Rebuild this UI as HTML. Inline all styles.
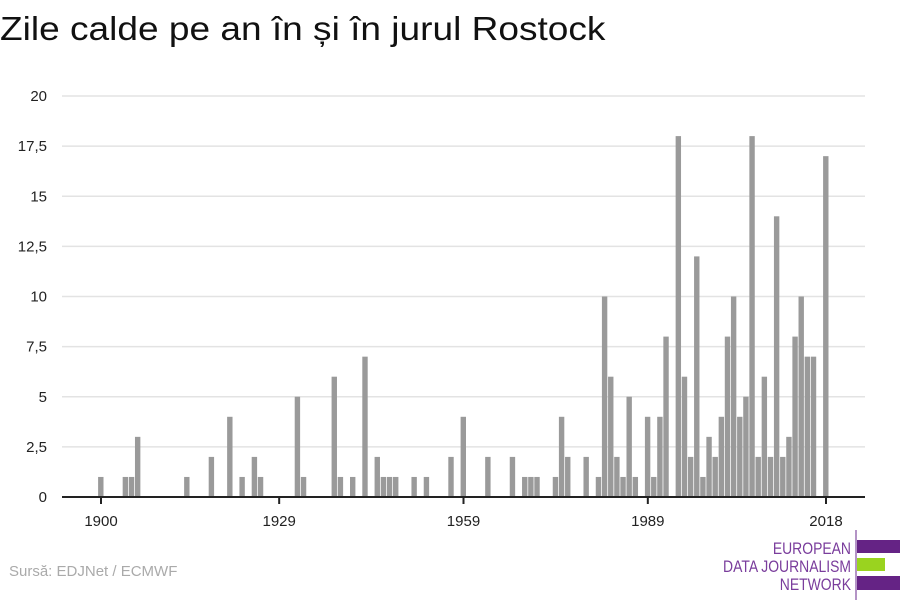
<!DOCTYPE html>
<html><head><meta charset="utf-8"><style>
body{margin:0;width:900px;height:600px;background:#fff;overflow:hidden}
svg{display:block;font-family:"Liberation Sans",sans-serif}
</style></head><body>
<svg width="900" height="600" viewBox="0 0 900 600">
<text x="0" y="40" font-size="33" fill="#111" transform="scale(1.123,1)">Zile calde pe an în și în jurul Rostock</text>
<g id="grid" stroke="#e3e3e3" stroke-width="1.5"></g>
<g id="ylab" font-size="15" fill="#222" text-anchor="end"></g>
<g id="bars" fill="#9a9a9a"></g>
<line x1="62" y1="497" x2="865" y2="497" stroke="#222" stroke-width="2"/>
<g id="xt" stroke="#222" stroke-width="2"></g>
<g id="xl" font-size="15" fill="#222" text-anchor="middle"></g>
<text x="9" y="576" font-size="15" fill="#aaa">Sursă: EDJNet / ECMWF</text>
<line x1="856" y1="530" x2="856" y2="600" stroke="#6a2a8e" stroke-width="1"/>
<rect x="857" y="540" width="43" height="13" fill="#652385"/>
<rect x="857" y="558" width="28" height="13" fill="#9ad31f"/>
<rect x="857" y="576" width="43" height="14" fill="#652385"/>
<g font-size="17" fill="#7a3d9c" text-anchor="end" transform="translate(851,0) scale(0.82,1)">
<text x="0" y="554">EUROPEAN</text>
<text x="0" y="572">DATA JOURNALISM</text>
<text x="0" y="590">NETWORK</text>
</g>
</svg>
<script>
var ns="http://www.w3.org/2000/svg";
function el(p,t,a,txt){var e=document.createElementNS(ns,t);for(var k in a)e.setAttribute(k,a[k]);if(txt!=null)e.textContent=txt;document.getElementById(p).appendChild(e);}
var Y=v=>497-v*20.05;
for(var i=0;i<=8;i++){var v=i*2.5;if(i>0)el("grid","line",{x1:62,x2:865,y1:Y(v),y2:Y(v)});
el("ylab","text",{x:47,y:Y(v)+5},String(v).replace(".",","));}
var d={1900:1,1904:1,1905:1,1906:3,1914:1,1918:2,1921:4,1923:1,1925:2,1926:1,1932:5,1933:1,1938:6,1939:1,1941:1,1943:7,1945:2,1946:1,1947:1,1948:1,1951:1,1953:1,1957:2,1959:4,1963:2,1967:2,1969:1,1970:1,1971:1,1974:1,1975:4,1976:2,1979:2,1981:1,1982:10,1983:6,1984:2,1985:1,1986:5,1987:1,1989:4,1990:1,1991:4,1992:8,1994:18,1995:6,1996:2,1997:12,1998:1,1999:3,2000:2,2001:4,2002:8,2003:10,2004:4,2005:5,2006:18,2007:2,2008:6,2009:2,2010:14,2011:2,2012:3,2013:8,2014:10,2015:7,2016:7,2018:17};
var X=y=>101+(y-1900)*6.144;
for(var y in d){el("bars","rect",{x:X(+y)-2.9,width:5.4,y:Y(d[y]),height:d[y]*20.05});}
[1900,1929,1959,1989,2018].forEach(function(y){el("xt","line",{x1:X(y),x2:X(y),y1:497,y2:504});el("xl","text",{x:X(y),y:526},y);});
</script>
</body></html>
